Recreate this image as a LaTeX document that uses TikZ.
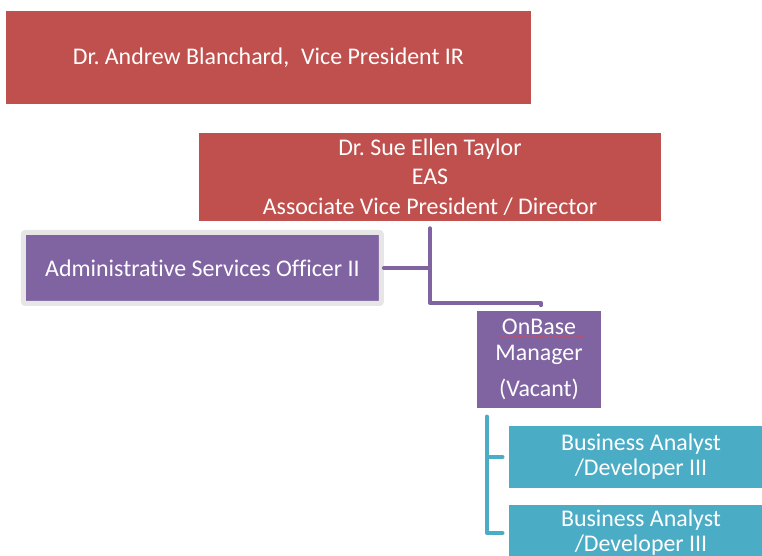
\documentclass[tikz,border=0pt]{standalone}
\usepackage{fontspec,xcolor,tikz}
\setmainfont{Carlito}[Ligatures=NoCommon]
\usetikzlibrary{decorations.pathmorphing}
\frenchspacing
\definecolor{chef}{HTML}{C0504D}
\definecolor{stab}{HTML}{8064A2}
\definecolor{team}{HTML}{4BACC6}
\definecolor{rahmen}{HTML}{E6E6E6}
\definecolor{welle}{HTML}{E0474C}
\newcommand{\gross}{\fontsize{17}{21}\selectfont}
\newcommand{\mittel}{\fontsize{17}{18.5}\selectfont}
\newcommand{\klein}{\fontsize{17}{17.8}\selectfont}
\tikzset{kasten/.style={inner sep=0,align=center,text=white,font=\gross},
  leitung/.style={kasten,fill=chef},
  stabskasten/.style={kasten,fill=stab},
  teamkasten/.style={kasten,fill=team,font=\klein},
  stablinie/.style={stab,line width=1mm,line join=round,line cap=round},
  teamlinie/.style={team,line width=0.9mm,line join=round,line cap=round}}

\begin{document}
\begin{tikzpicture}[x=1mm,y=1mm]
\useasboundingbox (0,0) rectangle (190.5,139);
% Leitungsebene
\node[leitung,minimum width=131.25mm,minimum height=23.25mm] (vp) at (67.1,124.6)
  {Dr. Andrew Blanchard,\enspace Vice President IR};
\node[leitung,minimum width=115.5mm,minimum height=22mm] (eas) at (107.5,94.75)
  {Dr. Sue Ellen Taylor\\EAS\\Associate Vice President / Director};
% Stabsstelle mit grauem Rand
\node[stabskasten,draw=rahmen,line width=1.25mm,rounded corners=0.5mm,
  minimum width=89.5mm,minimum height=17.75mm] (aso) at (50.6,72)
  {Administrative Services Officer II};
\node[stabskasten,font=\mittel,minimum width=31mm,minimum height=24.25mm] (onbase) at (134.75,49.1)
  {OnBase\\Manager\\[2.5mm](Vacant)};
\draw[welle,line width=0.3pt,decorate,decoration={snake,amplitude=0.2mm,segment length=1.1mm}]
  ([xshift=-9.6mm,yshift=5.7mm]onbase.center) -- ([xshift=11mm,yshift=5.7mm]onbase.center);
% Team
\node[teamkasten,minimum width=66mm,minimum height=15.5mm] (ba1) at (160.25,24.75)
  {Business Analyst\\/Developer III};
\node[teamkasten,minimum width=66mm,minimum height=14mm] (ba2) at (160.25,5.75)
  {Business Analyst\\/Developer III};
% Verbindungen
\coordinate (knick) at ([yshift=-1.75mm]eas.south);
\draw[stablinie] (knick) |- ([xshift=0.5mm,yshift=2mm]onbase.north) -- ([xshift=0.5mm,yshift=1.4mm]onbase.north);
\draw[stablinie] (aso.east) -- (aso.east -| knick);
\coordinate (ast) at ([xshift=2.5mm,yshift=-2mm]onbase.south west);
\draw[teamlinie] (ast) |- ([xshift=-1.5mm]ba2.west);
\draw[teamlinie] (ast |- ba1.west) -- ([xshift=-1.5mm]ba1.west);
\end{tikzpicture}
\end{document}
